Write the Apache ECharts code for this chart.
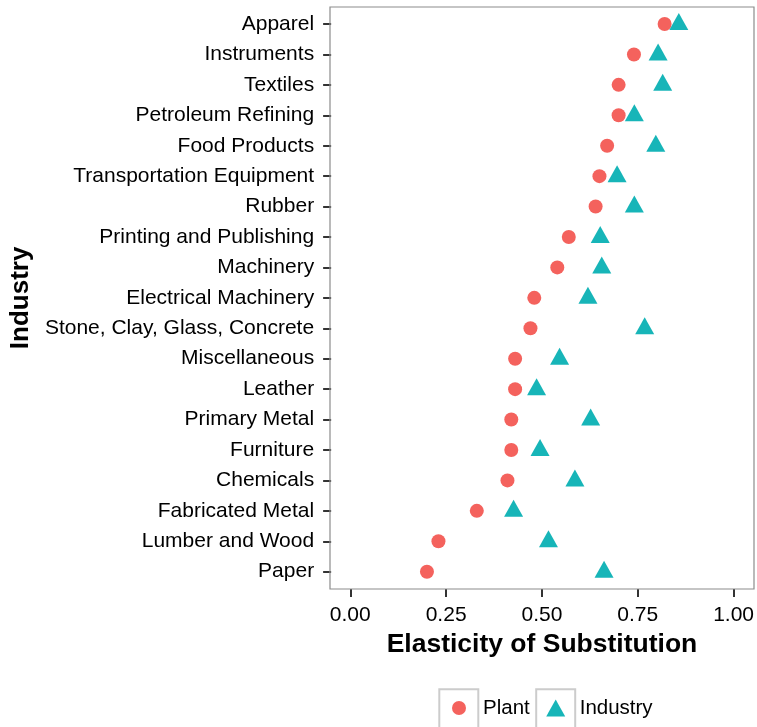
<!DOCTYPE html>
<html>
<head>
<meta charset="utf-8">
<script src="https://cdn.jsdelivr.net/npm/echarts@6/dist/echarts.min.js"></script>
<style>
  html, body { margin: 0; padding: 0; background: #ffffff; }
  #chart { width: 757px; height: 727px; }
</style>
</head>
<body>
<div id="chart"></div>
<script>
const categories = ['Apparel', 'Instruments', 'Textiles', 'Petroleum Refining', 'Food Products',
  'Transportation Equipment', 'Rubber', 'Printing and Publishing', 'Machinery', 'Electrical Machinery',
  'Stone, Clay, Glass, Concrete', 'Miscellaneous', 'Leather', 'Primary Metal', 'Furniture',
  'Chemicals', 'Fabricated Metal', 'Lumber and Wood', 'Paper'];
const plantValues = [0.82, 0.74, 0.70, 0.70, 0.67, 0.65, 0.64, 0.57, 0.54, 0.48,
  0.47, 0.43, 0.43, 0.42, 0.42, 0.41, 0.33, 0.23, 0.20];
const industryValues = [0.857, 0.803, 0.815, 0.741, 0.797, 0.696, 0.741, 0.652, 0.656, 0.620,
  0.768, 0.546, 0.486, 0.627, 0.495, 0.586, 0.426, 0.517, 0.662];
const xTicks = [0, 0.25, 0.5, 0.75, 1];
const xTickLabels = ['0.00', '0.25', '0.50', '0.75', '1.00'];
const seriesNames = ['Plant', 'Industry'];

const FONT = "'Liberation Sans', Arial, Helvetica, sans-serif";
const RED = '#F4625D';
const TEAL = '#17B5B8';
const TRI = 'path://M0,17L9.5,0L19,17Z';

const chart = echarts.init(document.getElementById('chart'), null, { renderer: 'canvas' });

const option = {
  animation: false,
  backgroundColor: '#ffffff',
  textStyle: { fontFamily: FONT },
  grid: [
    { left: 330, right: 3, top: 8.8, bottom: 140.1, show: false },
    { left: 330, right: 3, top: 7, bottom: 138, show: true, borderColor: '#8c8c8c', borderWidth: 1.2, backgroundColor: 'transparent', z: 1 }
  ],
  xAxis: [
    {
      type: 'value',
      gridIndex: 0,
      min: -0.05, max: 1.05,
      offset: 2.1,
      name: 'Elasticity of Substitution',
      nameLocation: 'middle',
      nameGap: 34,
      nameTextStyle: { fontFamily: FONT, fontSize: 26.5, fontWeight: 'bold', color: '#000' },
      axisLine: { show: false },
      axisTick: { show: true, customValues: xTicks, length: 8, lineStyle: { color: '#333', width: 2 } },
      axisLabel: {
        customValues: xTicks,
        margin: 16,
        fontFamily: FONT, fontSize: 21, color: '#000',
        formatter: function (v) { const k = xTicks.indexOf(v); return k >= 0 ? xTickLabels[k] : v.toFixed(2); }
      },
      splitLine: { show: false }
    },
    { type: 'value', gridIndex: 1, show: false, min: 0, max: 1 }
  ],
  yAxis: [
    {
      type: 'category',
      gridIndex: 0,
      data: categories,
      inverse: true,
      boundaryGap: true,
      name: 'Industry',
      nameLocation: 'middle',
      nameGap: 289,
      nameTextStyle: { fontFamily: FONT, fontSize: 26, fontWeight: 'bold', color: '#000' },
      axisLine: { show: false, onZero: false },
      axisTick: { show: true, alignWithLabel: true, length: 8, lineStyle: { color: '#333', width: 2 } },
      axisLabel: { margin: 17, fontFamily: FONT, fontSize: 21, color: '#000', interval: 0 },
      splitLine: { show: false }
    },
    { type: 'value', gridIndex: 1, show: false, min: 0, max: 1 }
  ],
  legend: [
    {
      data: [{ name: seriesNames[0], icon: 'circle' }],
      left: 452, top: 697.5, padding: 0,
      itemWidth: 38, itemHeight: 14,
      selectedMode: false,
      textStyle: { fontFamily: FONT, fontSize: 20.5, color: '#000' }
    },
    {
      data: [{ name: seriesNames[1], icon: TRI }],
      left: 546.2, top: 697.5, padding: 0,
      itemWidth: 38, itemHeight: 17,
      selectedMode: false,
      textStyle: { fontFamily: FONT, fontSize: 20.5, color: '#000' }
    }
  ],
  graphic: [
    { type: 'rect', shape: { x: 439.3, y: 689.3, width: 39, height: 39 }, style: { fill: 'none', stroke: '#cccccc', lineWidth: 2 }, silent: true, z: 0 },
    { type: 'rect', shape: { x: 536.2, y: 689.3, width: 39, height: 39 }, style: { fill: 'none', stroke: '#cccccc', lineWidth: 2 }, silent: true, z: 0 }
  ],
  series: [
    {
      name: seriesNames[0],
      type: 'scatter',
      xAxisIndex: 0, yAxisIndex: 0,
      symbol: 'circle',
      symbolSize: 14,
      itemStyle: { color: RED, opacity: 1 },
      data: plantValues.map(function (v, i) { return [v, categories[i]]; }),
      z: 3
    },
    {
      name: seriesNames[1],
      type: 'scatter',
      xAxisIndex: 0, yAxisIndex: 0,
      symbol: TRI,
      symbolSize: [19, 17],
      symbolOffset: [0, -2.5],
      itemStyle: { color: TEAL, opacity: 1 },
      data: industryValues.map(function (v, i) { return [v, categories[i]]; }),
      z: 4
    }
  ]
};

chart.setOption(option);
</script>
</body>
</html>
